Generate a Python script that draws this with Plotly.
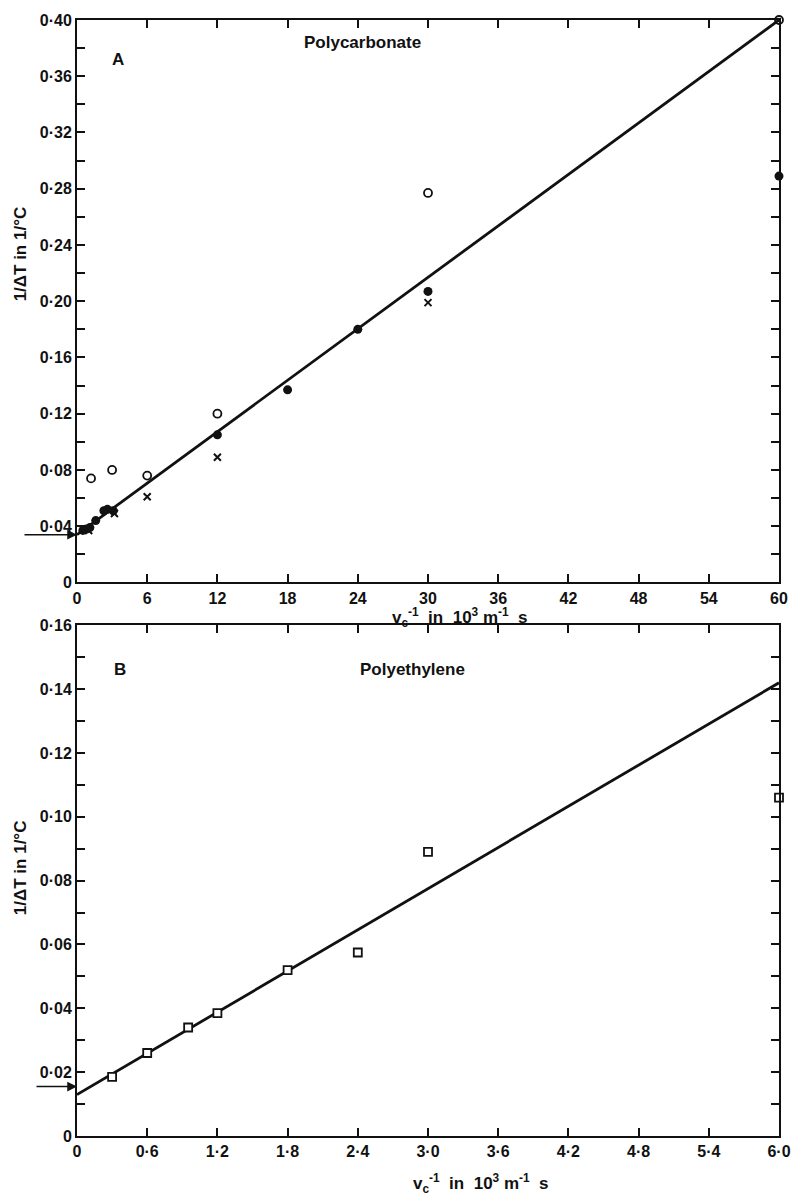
import plotly.graph_objects as go

# ---------------- Panel A: Polycarbonate ----------------
a_filled_x = [0.5, 0.8, 1.1, 1.6, 2.3, 2.6, 3.1, 12, 18, 24, 30, 60]
a_filled_y = [0.037, 0.038, 0.039, 0.044, 0.051, 0.052, 0.051, 0.105, 0.137, 0.180, 0.207, 0.289]
a_open_x = [1.2, 3.0, 6.0, 12, 30, 60]
a_open_y = [0.074, 0.080, 0.076, 0.120, 0.277, 0.400]
a_cross_x = [1.0, 3.2, 6.0, 12, 30]
a_cross_y = [0.037, 0.049, 0.061, 0.089, 0.199]
a_fit_x = [0, 60]
a_fit_y = [0.034, 0.400]
a_arrow_y = 0.034

a_xticks = [0, 6, 12, 18, 24, 30, 36, 42, 48, 54, 60]
a_xtext = ["0", "6", "12", "18", "24", "30", "36", "42", "48", "54", "60"]
a_yticks = [0, 0.04, 0.08, 0.12, 0.16, 0.20, 0.24, 0.28, 0.32, 0.36, 0.40]
a_ytext = ["0", "0·04", "0·08", "0·12", "0·16", "0·20", "0·24", "0·28", "0·32", "0·36", "0·40"]

# ---------------- Panel B: Polyethylene ----------------
b_sq_x = [0.3, 0.6, 0.95, 1.2, 1.8, 2.4, 3.0, 6.0]
b_sq_y = [0.0185, 0.026, 0.034, 0.0385, 0.052, 0.0575, 0.089, 0.106]
b_fit_x = [0, 6.0]
b_fit_y = [0.013, 0.142]
b_arrow_y = 0.0155

b_xticks = [0, 0.6, 1.2, 1.8, 2.4, 3.0, 3.6, 4.2, 4.8, 5.4, 6.0]
b_xtext = ["0", "0·6", "1·2", "1·8", "2·4", "3·0", "3·6", "4·2", "4·8", "5·4", "6·0"]
b_yticks = [0, 0.02, 0.04, 0.06, 0.08, 0.10, 0.12, 0.14, 0.16]
b_ytext = ["0", "0·02", "0·04", "0·06", "0·08", "0·10", "0·12", "0·14", "0·16"]

FONT = "Liberation Sans"
BLACK = "#111111"

fig = go.Figure()

fig.add_trace(go.Scatter(x=a_fit_x, y=a_fit_y, mode="lines",
                         line=dict(color=BLACK, width=2.8), xaxis="x", yaxis="y", showlegend=False))
fig.add_trace(go.Scatter(x=a_open_x, y=a_open_y, mode="markers",
                         marker=dict(symbol="circle-open", size=8, color=BLACK, line=dict(width=1.8)),
                         xaxis="x", yaxis="y", showlegend=False, cliponaxis=False))
fig.add_trace(go.Scatter(x=a_cross_x, y=a_cross_y, mode="markers",
                         marker=dict(symbol="x-thin", size=7, color=BLACK, line=dict(width=2, color=BLACK)),
                         xaxis="x", yaxis="y", showlegend=False, cliponaxis=False))
fig.add_trace(go.Scatter(x=a_filled_x, y=a_filled_y, mode="markers",
                         marker=dict(symbol="circle", size=9, color=BLACK),
                         xaxis="x", yaxis="y", showlegend=False, cliponaxis=False))

fig.add_trace(go.Scatter(x=b_fit_x, y=b_fit_y, mode="lines",
                         line=dict(color=BLACK, width=2.8), xaxis="x2", yaxis="y2", showlegend=False))
fig.add_trace(go.Scatter(x=b_sq_x, y=b_sq_y, mode="markers",
                         marker=dict(symbol="square", size=8, color="white", line=dict(width=1.8, color=BLACK)),
                         xaxis="x2", yaxis="y2", showlegend=False, cliponaxis=False))

tick_font = dict(family=FONT, size=16, color=BLACK, weight="bold")
axis_common = dict(showgrid=False, zeroline=False, showline=True, linecolor=BLACK, linewidth=2,
                   mirror="ticks", ticks="inside", ticklen=8, tickwidth=1.5, tickcolor=BLACK,
                   tickfont=tick_font)

title_font = dict(family=FONT, size=17, color=BLACK, weight="bold")

xtitle = "v<sub>c</sub><sup>-1</sup>  in  10<sup>3</sup> m<sup>-1</sup>  s"
ytitle = "1/ΔT in 1/°C"

A_DOM = [0.496, 1]
B_DOM = [0, 0.4576]

fig.update_layout(
    width=803, height=1203,
    margin=dict(l=77, r=17, t=15, b=67),
    paper_bgcolor="white", plot_bgcolor="white",
    xaxis=dict(axis_common, domain=[0, 1], anchor="y", range=[0, 60],
               tickvals=a_xticks, ticktext=a_xtext),
    yaxis=dict(axis_common, domain=A_DOM, anchor="x", range=[0, 0.40],
               tickvals=a_yticks, ticktext=a_ytext,
               minor=dict(dtick=0.02, ticks="inside", ticklen=8, tickwidth=1.5, tickcolor=BLACK, showgrid=False)),
    xaxis2=dict(axis_common, domain=[0, 1], anchor="y2", range=[0, 6.0],
                tickvals=b_xticks, ticktext=b_xtext),
    yaxis2=dict(axis_common, domain=B_DOM, anchor="x2", range=[0, 0.16],
                tickvals=b_yticks, ticktext=b_ytext,
                minor=dict(dtick=0.01, ticks="inside", ticklen=8, tickwidth=1.5, tickcolor=BLACK, showgrid=False)),
)

# axis titles as annotations (positioned like the reference)
fig.add_annotation(x=0, y=0.79, xref="paper", yref="paper", xshift=-57, text=ytitle, textangle=-90,
                   showarrow=False, font=title_font, xanchor="center", yanchor="middle")
fig.add_annotation(x=0, y=0.24, xref="paper", yref="paper", xshift=-57, text=ytitle, textangle=-90,
                   showarrow=False, font=title_font, xanchor="center", yanchor="middle")
fig.add_annotation(x=0.545, y=A_DOM[0], xref="paper", yref="paper", yshift=-35, text=xtitle,
                   showarrow=False, font=title_font, yanchor="middle")
fig.add_annotation(x=0.575, y=B_DOM[0], xref="paper", yref="paper", yshift=-47, text=xtitle,
                   showarrow=False, font=title_font, yanchor="middle")

ann_font = dict(family=FONT, size=17, color=BLACK, weight="bold")
fig.add_annotation(x=3.5, y=0.372, xref="x", yref="y", text="A", showarrow=False, font=ann_font)
fig.add_annotation(x=24.4, y=0.384, xref="x", yref="y", text="Polycarbonate", showarrow=False, font=ann_font)
fig.add_annotation(x=0.37, y=0.146, xref="x2", yref="y2", text="B", showarrow=False, font=ann_font)
fig.add_annotation(x=2.87, y=0.146, xref="x2", yref="y2", text="Polyethylene", showarrow=False, font=ann_font)

fig.add_annotation(x=0, y=a_arrow_y, xref="x", yref="y", text="", showarrow=True,
                   ax=-54, ay=0, axref="pixel", ayref="pixel",
                   arrowhead=2, arrowsize=1.3, arrowwidth=1.5, arrowcolor=BLACK)
fig.add_annotation(x=0, y=b_arrow_y, xref="x2", yref="y2", text="", showarrow=True,
                   ax=-42, ay=0, axref="pixel", ayref="pixel",
                   arrowhead=2, arrowsize=1.3, arrowwidth=1.5, arrowcolor=BLACK)

fig.write_html("out.html")
